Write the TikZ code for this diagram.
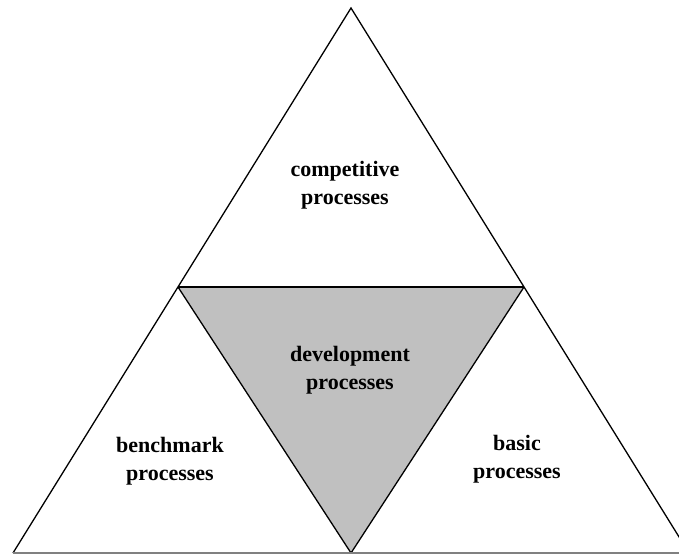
\documentclass[tikz,border=0pt]{standalone}
\usepackage{fontspec}
\setmainfont{Liberation Serif}
\begin{document}
\begin{tikzpicture}[x=1bp,y=-1bp,
  edge/.style={line width=1.3bp,line join=miter},
  label/.style={font=\bfseries\fontsize{22bp}{28bp}\selectfont,align=center,inner sep=0pt,anchor=base},
  core/.style={fill={rgb,255:red,192;green,192;blue,192}}]
\useasboundingbox (0,0) rectangle (679,554);
\clip (0,0) rectangle (679,554);
% vertices of the outer triangle and the inner (inverted) triangle
\coordinate (apex) at (351,8);
\coordinate (bl) at (13,553);
\coordinate (br) at (689,553);
\coordinate (ml) at (178,287);
\coordinate (mr) at (524,287);
\coordinate (mb) at (351,553);
% shaded centre triangle
\fill[core] (ml) -- (mr) -- (mb) -- cycle;
% outlines
\draw[edge] (bl) -- (apex) -- (br);
\draw[edge] (ml) -- (mr);
\draw[edge] (ml) -- (mb) -- (mr);
\draw[line width=1.3bp,gray] (bl) -- (br);
% labels (anchored on the baseline of their second line)
\node[label] (comp) at (345,205) {competitive\\processes};
\node[label] (dev) at (350,389) {development\\processes};
\node[label] (bench) at (170,480) {benchmark\\processes};
\node[label] (basic) at (517,478) {basic\\processes};
\end{tikzpicture}
\end{document}
